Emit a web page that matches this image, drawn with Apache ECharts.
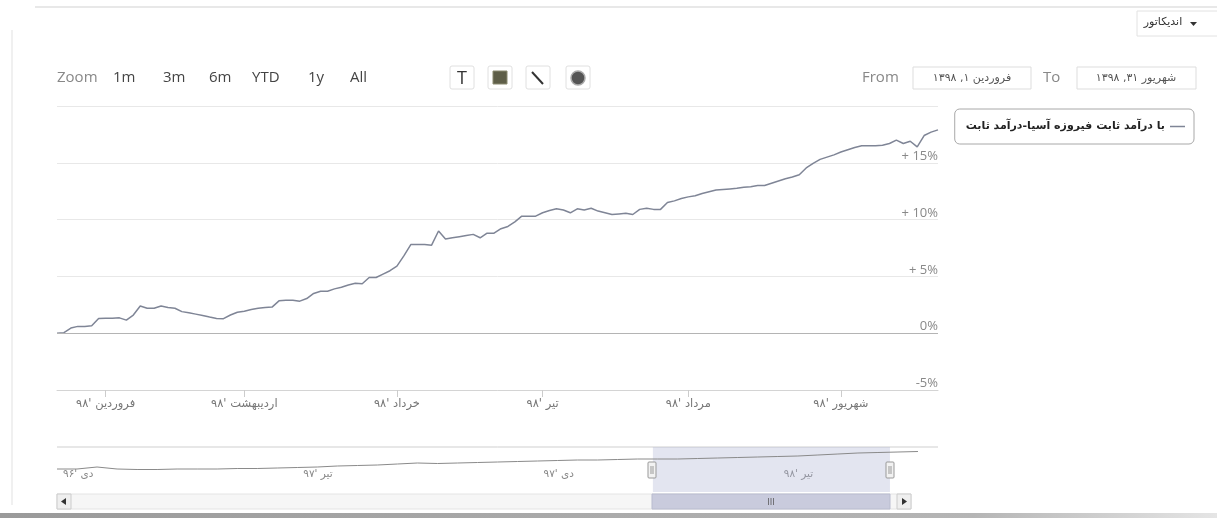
<!DOCTYPE html>
<html><head><meta charset="utf-8">
<script src="https://cdn.jsdelivr.net/npm/echarts@6/dist/echarts.min.js"></script>
<style>html,body{margin:0;padding:0;background:#fff}#c{width:1217px;height:518px}</style>
</head><body><div id="c"></div>
<script>
// ---- data ----
const seriesName = 'با درآمد ثابت فیروزه آسیا-درآمد ثابت';
const values = [0,0.05,0.45,0.6,0.6,0.65,1.3,1.32,1.32,1.35,
  1.15,1.6,2.4,2.2,2.2,2.4,2.26,2.2,1.9,1.8,
  1.68,1.55,1.42,1.3,1.28,1.6,1.85,1.94,2.08,2.2,
  2.27,2.3,2.85,2.9,2.9,2.82,3.05,3.5,3.7,3.7,
  3.9,4.05,4.25,4.4,4.35,4.9,4.9,5.2,5.5,5.9,
  6.8,7.8,7.8,7.8,7.75,9.0,8.3,8.4,8.5,8.6,
  8.7,8.4,8.8,8.8,9.2,9.4,9.8,10.3,10.3,10.3,
  10.6,10.8,10.95,10.85,10.6,10.95,10.85,11.0,10.75,10.6,
  10.45,10.5,10.55,10.45,10.9,11.0,10.9,10.9,11.5,11.65,
  11.85,12.0,12.1,12.3,12.45,12.6,12.65,12.7,12.75,12.85,
  12.9,13.0,13.0,13.2,13.4,13.6,13.75,13.95,14.55,14.95,
  15.3,15.5,15.7,15.95,16.15,16.35,16.5,16.5,16.5,16.55,
  16.7,17.0,16.7,16.9,16.4,17.4,17.7,17.9];
const monthTickIndex = [7, 27, 49, 70, 91, 113];
const monthLabels = ["فروردین '۹۸", "اردیبهشت '۹۸", "خرداد '۹۸", "تیر '۹۸", "مرداد '۹۸", "شهریور '۹۸"];
const yMin = -5, yMax = 20, yStep = 5;

const navValues = [1,1,3,1,0.5,0.5,1,1,1,1.5,1.5,2,2.5,3,4,4.5,5,6,7,6.5,7,7.5,8,8.5,9,9.5,10,10,10.5,11,11,11,11.5,12,12.5,13,13.5,14,15,16,17,17.5,18,18.5];
const navStepMonths = 0.5;
const navTickMonths = [0, 6, 12, 18];
const navLabels = ["دی '۹۶", "تیر '۹۷", "دی '۹۷", "تیر '۹۸"];
const selectedRange = [14.88, 20.8];

const rangeButtons = ['1m','3m','6m','YTD','1y','All'];
const fromDate = 'فروردین ۱, ۱۳۹۸';
const toDate = 'شهریور ۳۱, ۱۳۹۸';
const indicatorLabel = 'اندیکاتور';

// ---- chart ----
const chart = echarts.init(document.getElementById('c'), null, {renderer: 'canvas'});
const cats = values.map((_, i) => i);
const isTick = (idx) => monthTickIndex.indexOf(idx) >= 0;
const navData = navValues.map((v, i) => [i * navStepMonths, v]);
const fa = "'DejaVu Sans', sans-serif";
const lat = "'Open Sans', 'DejaVu Sans', sans-serif";

const btnX = [113, 163, 209, 252, 308, 350];
const graphics = [
  {type:'line', shape:{x1:35,y1:7,x2:1217,y2:7}, style:{stroke:'#e8e8e8', lineWidth:2}},
  {type:'line', shape:{x1:12,y1:30,x2:12,y2:505}, style:{stroke:'#f0f0f0', lineWidth:2}},
  {type:'rect', shape:{x:1137,y:11,width:85,height:25}, style:{fill:'#fff', stroke:'#e2e2e2'}},
  {type:'text', x:1163, y:22, style:{text:indicatorLabel, font:'11px '+fa, fill:'#333', align:'center', verticalAlign:'middle'}},
  {type:'polygon', shape:{points:[[1190,22],[1197,22],[1193.5,26]]}, style:{fill:'#333'}},
  {type:'text', x:57, y:78, style:{text:'Zoom', font:'15px '+lat, fill:'#888', verticalAlign:'middle'}},
];
rangeButtons.forEach((b, i) => graphics.push({type:'text', x:btnX[i], y:78, style:{text:b, font:'15px '+lat, fill:'#444', verticalAlign:'middle'}}));
// annotation tool icons
[450, 488, 526, 566].forEach(x => graphics.push({type:'rect', shape:{x:x, y:66, width:24, height:23, r:2}, style:{fill:'#fff', stroke:'#e0e0e0'}}));
graphics.push(
  {type:'text', x:462, y:79, style:{text:'T', font:'18px '+lat, fill:'#333', align:'center', verticalAlign:'middle'}},
  {type:'rect', shape:{x:493, y:71, width:14, height:13}, style:{fill:'#5e5e48', stroke:'#8a8a70'}},
  {type:'line', shape:{x1:532, y1:72, x2:543, y2:84}, style:{stroke:'#333', lineWidth:2}},
  {type:'circle', shape:{cx:578, cy:78, r:7}, style:{fill:'#555', stroke:'#aaa', lineWidth:1.5}},
  {type:'text', x:862, y:78, style:{text:'From', font:'15px '+lat, fill:'#888', verticalAlign:'middle'}},
  {type:'rect', shape:{x:913, y:67, width:118, height:22}, style:{fill:'#fff', stroke:'#ddd'}},
  {type:'text', x:972, y:78, style:{text:fromDate, font:'11px '+fa, fill:'#555', align:'center', verticalAlign:'middle'}},
  {type:'text', x:1043, y:78, style:{text:'To', font:'15px '+lat, fill:'#888', verticalAlign:'middle'}},
  {type:'rect', shape:{x:1077, y:67, width:119, height:22}, style:{fill:'#fff', stroke:'#ddd'}},
  {type:'text', x:1136, y:78, style:{text:toDate, font:'11px '+fa, fill:'#555', align:'center', verticalAlign:'middle'}},
  // navigator chrome
  {type:'line', shape:{x1:57,y1:447,x2:938,y2:447}, style:{stroke:'#cfcfcf', lineWidth:1}},
  {type:'rect', shape:{x:57, y:494, width:854, height:15}, style:{fill:'#f6f6f6', stroke:'#e4e4e4'}},
  {type:'rect', shape:{x:652, y:494, width:238, height:15}, style:{fill:'#c9cbdd', stroke:'#b9bccf'}},
  {type:'text', x:771, y:502, style:{text:'III', font:'9px '+lat, fill:'#555', align:'center', verticalAlign:'middle'}},
  {type:'rect', shape:{x:57, y:494, width:14, height:15}, style:{fill:'#efefef', stroke:'#ccc'}},
  {type:'polygon', shape:{points:[[66,498],[66,505],[61,501.5]]}, style:{fill:'#333'}},
  {type:'rect', shape:{x:897, y:494, width:14, height:15}, style:{fill:'#efefef', stroke:'#ccc'}},
  {type:'polygon', shape:{points:[[902,498],[902,505],[907,501.5]]}, style:{fill:'#333'}},
  {type:'rect', shape:{x:648, y:462, width:8, height:16, r:1}, style:{fill:'#f2f2f2', stroke:'#999'}, z:10},
  {type:'rect', shape:{x:886, y:462, width:8, height:16, r:1}, style:{fill:'#f2f2f2', stroke:'#999'}, z:10},
  {type:'line', shape:{x1:651,y1:466,x2:651,y2:474}, style:{stroke:'#999'}, z:11},
  {type:'line', shape:{x1:653,y1:466,x2:653,y2:474}, style:{stroke:'#999'}, z:11},
  {type:'line', shape:{x1:889,y1:466,x2:889,y2:474}, style:{stroke:'#999'}, z:11},
  {type:'line', shape:{x1:891,y1:466,x2:891,y2:474}, style:{stroke:'#999'}, z:11},
  {type:'rect', shape:{x:0, y:513, width:1217, height:5}, style:{fill:new echarts.graphic.LinearGradient(0,0,1,0,[{offset:0,color:'#9a9a9a'},{offset:0.8,color:'#b5b5b5'},{offset:1,color:'#e5e5e5'}])}}
);

chart.setOption({
  animation: false,
  backgroundColor: '#fff',
  legend: {
    data: [seriesName], right: 23, top: 109, align: 'right', icon: 'rect', itemWidth: 15, itemHeight: 1.5,
    borderColor: '#a8a8a8', borderWidth: 1, borderRadius: 5, padding: [12, 9, 12, 11],
    textStyle: {fontFamily: fa, fontWeight: 'bold', fontSize: 11, color: '#222'}
  },
  grid: [
    {left: 57, right: 279, top: 106, bottom: 128},
    {left: 57, right: 279, top: 447, height: 45}
  ],
  xAxis: [
    {type: 'category', data: cats, boundaryGap: false, gridIndex: 0,
     axisLine: {onZero: false, lineStyle: {color: '#d4d4d4'}},
     axisTick: {interval: isTick, length: 7, lineStyle: {color: '#ccc'}},
     axisLabel: {interval: isTick, formatter: (v, i) => monthLabels[monthTickIndex.indexOf(Number(v))] || '',
       color: '#777', fontSize: 11.5, fontFamily: fa, margin: 8},
     splitLine: {show: false}},
    {type: 'value', gridIndex: 1, min: 0, max: 22, interval: 6,
     axisLine: {show: false}, axisTick: {show: false}, splitLine: {show: false},
     axisLabel: {inside: true, margin: 12, align: 'left', padding: [0,0,0,6], color: '#888', fontSize: 10.5, fontFamily: fa,
       formatter: (v) => navLabels[navTickMonths.indexOf(v)] || ''}}
  ],
  yAxis: [
    {type: 'value', gridIndex: 0, position: 'right', min: yMin, max: yMax, interval: yStep,
     axisLine: {show: false}, axisTick: {show: false},
     splitLine: {lineStyle: {color: '#e8e8e8'}},
     axisLabel: {inside: true, margin: 0, verticalAlign: 'bottom', color: '#888', fontSize: 13, fontFamily: lat,
       formatter: (v) => v >= yMax ? '' : (v > 0 ? '+ ' + v + '%' : v + '%')}},
    {type: 'value', gridIndex: 1, min: -22, max: 23, show: false}
  ],
  series: [
    {name: seriesName, type: 'line', data: values, xAxisIndex: 0, yAxisIndex: 0,
     showSymbol: false, symbol: 'none', lineStyle: {color: '#7f8596', width: 1.5}, itemStyle: {color: '#7f8596'},
     markLine: {silent: true, symbol: 'none', label: {show: false}, lineStyle: {color: '#b4b4b4', width: 1.2, type: 'solid'}, data: [{yAxis: 0}]}},
    {name: 'nav', type: 'line', data: navData, xAxisIndex: 1, yAxisIndex: 1,
     showSymbol: false, symbol: 'none', lineStyle: {color: '#8a8a8a', width: 1},
     markArea: {silent: true, itemStyle: {color: 'rgba(170,175,210,0.33)'}, data: [[{xAxis: selectedRange[0]}, {xAxis: selectedRange[1]}]]}}
  ],
  graphic: graphics
});
</script></body></html>
